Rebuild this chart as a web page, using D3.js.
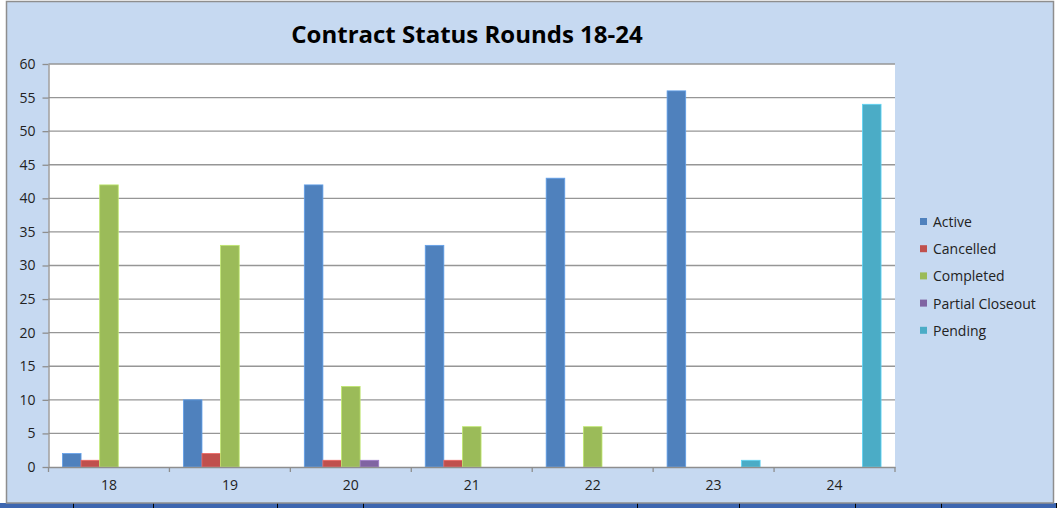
<!DOCTYPE html>
<html>
<head>
<meta charset="utf-8">
<script src="https://cdn.jsdelivr.net/npm/d3@7"></script>
<style>
  body { margin: 0; background: #fff; }
  svg  { display: block; }
</style>
</head>
<body>
<div id="chart"></div>
<script>
// rounds on the x axis
var rounds    = ["18", "19", "20", "21", "22", "23", "24"];
var series    = ["Active", "Cancelled", "Completed", "Partial Closeout", "Pending"];
var active    = [2, 10, 42, 33, 43, 56, 0];
var cancelled = [1, 2, 1, 1, 0, 0, 0];
var completed = [42, 33, 12, 6, 6, 0, 0];
var partial   = [0, 0, 1, 0, 0, 0, 0];
var pending   = [0, 0, 0, 0, 0, 1, 54];
var yTicks    = [0, 5, 10, 15, 20, 25, 30, 35, 40, 45, 50, 55, 60];

var values = [active, cancelled, completed, partial, pending];
var colors = ["#4F81BD", "#C0504D", "#9BBB59", "#8064A2", "#4BACC6"];

var width  = 1063;
var height = 508;
var font   = "'Open Sans', 'Noto Sans', sans-serif";

var svg = d3.select("#chart").append("svg")
  .attr("width", width)
  .attr("height", height);

// spreadsheet strip under the chart
svg.append("rect").attr("x", 0).attr("y", 503).attr("width", 1057).attr("height", 5).attr("fill", "#3D66B0");
[73, 153, 277, 363, 637, 739, 855, 941, 1056].forEach(function (x)
{
  svg.append("line").attr("x1", x + 0.5).attr("x2", x + 0.5).attr("y1", 503).attr("y2", 508)
    .attr("stroke", "#000").attr("stroke-width", 1);
});

// chart area
svg.append("rect")
  .attr("x", 6.5).attr("y", 1.5).attr("width", 1047).attr("height", 501.5)
  .attr("fill", "#C6D9F1").attr("stroke", "#8E8E8E").attr("stroke-width", 1.5);

var plot = { left: 48.5, top: 64, right: 895, bottom: 467 };

var x = d3.scaleBand().domain(rounds).range([plot.left, plot.right]);
var y = d3.scaleLinear().domain([0, 60]).range([plot.bottom, plot.top]);

// excel style: gap width 150%
var barW = x.bandwidth() / (series.length + 1.5);
var x1   = d3.scaleBand().domain(series).range([0.75 * barW, 0.75 * barW + barW * series.length]);

svg.append("rect")
  .attr("x", plot.left).attr("y", plot.top)
  .attr("width", plot.right - plot.left).attr("height", plot.bottom - plot.top)
  .attr("fill", "#fff");

// gridlines
svg.append("g").selectAll("line").data(yTicks.filter(function (d) { return d > 0; })).enter().append("line")
  .attr("x1", plot.left).attr("x2", plot.right)
  .attr("y1", function (d) { return y(d); }).attr("y2", function (d) { return y(d); })
  .attr("stroke", "#969696").attr("stroke-width", 1.3);

// bars
series.forEach(function (name, i)
{
  var rows = values[i]
    .map(function (v, j) { return { round: rounds[j], value: v }; })
    .filter(function (d) { return d.value > 0; });

  svg.append("g").selectAll("rect").data(rows).enter().append("rect")
    .attr("x", function (d) { return x(d.round) + x1(name); })
    .attr("y", function (d) { return y(d.value); })
    .attr("width", x1.bandwidth())
    .attr("height", function (d) { return y(0) - y(d.value); })
    .attr("fill", colors[i])
    .attr("stroke", d3.color(colors[i]).brighter(0.6))
    .attr("stroke-width", 0.8);
});

// y axis
var yAxis = svg.append("g")
  .attr("transform", "translate(" + plot.left + ",0)")
  .call(d3.axisLeft(y).tickValues(yTicks).tickSize(6).tickSizeOuter(0).tickPadding(7));

// x axis
var xAxis = svg.append("g")
  .attr("transform", "translate(0," + plot.bottom + ")")
  .call(d3.axisBottom(x).tickSize(0).tickPadding(13));

svg.append("g").selectAll("line").data(d3.range(rounds.length + 1)).enter().append("line")
  .attr("x1", function (d) { return plot.left + d * x.step(); })
  .attr("x2", function (d) { return plot.left + d * x.step(); })
  .attr("y1", plot.bottom).attr("y2", plot.bottom + 5)
  .attr("stroke", "#8E8E8E").attr("stroke-width", 1.3);

[yAxis, xAxis].forEach(function (ax)
{
  ax.selectAll("path, line").attr("stroke", "#8E8E8E").attr("stroke-width", 1.3);
  ax.selectAll("text").attr("fill", "#222").style("font-family", font).style("font-size", "14px");
});

// title
svg.append("text")
  .attr("x", 467).attr("y", 43)
  .attr("text-anchor", "middle")
  .style("font-family", font).style("font-size", "24px").style("font-weight", "bold")
  .attr("fill", "#000")
  .text("Contract Status Rounds 18-24");

// legend
var legend = svg.append("g").selectAll("g").data(series).enter().append("g")
  .attr("transform", function (d, i) { return "translate(920," + (222 + i * 27.2) + ")"; });

legend.append("rect")
  .attr("x", 0).attr("y", -4).attr("width", 7).attr("height", 7)
  .attr("fill", function (d, i) { return colors[i]; });

legend.append("text")
  .attr("x", 13).attr("y", 5)
  .style("font-family", font).style("font-size", "14px")
  .attr("fill", "#222")
  .text(function (d) { return d; });
</script>
</body>
</html>
